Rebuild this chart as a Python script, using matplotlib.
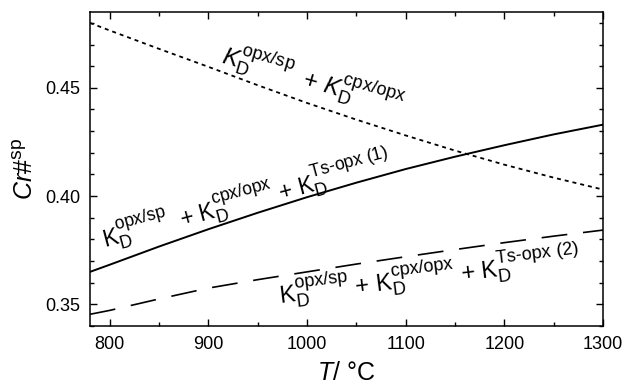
import matplotlib.pyplot as plt
import matplotlib._mathtext as mt
import numpy as np

plt.rcParams['font.family'] = 'Liberation Sans'
plt.rcParams['mathtext.fontset'] = 'custom'
plt.rcParams['mathtext.rm'] = 'Liberation Sans'
plt.rcParams['mathtext.it'] = 'Liberation Sans:italic'
mt.SHRINK_FACTOR = 0.77  # bigger super/subscripts, as in the original

# data
T = [780, 800, 850, 900, 950, 1000, 1050, 1100, 1150, 1200, 1250, 1300]
cr_dotted = [0.480, 0.4765, 0.4680, 0.4597, 0.4512, 0.4430, 0.4353, 0.4280, 0.4210, 0.4145, 0.4085, 0.4030]
cr_solid = [0.365, 0.3683, 0.3767, 0.3847, 0.3923, 0.3995, 0.4062, 0.4125, 0.4182, 0.4235, 0.4285, 0.4330]
cr_dashed = [0.3454, 0.3472, 0.3525, 0.3575, 0.3614, 0.3650, 0.3686, 0.3720, 0.3753, 0.3785, 0.3815, 0.3843]

fig = plt.figure(figsize=(6.25, 3.89), dpi=100)
axe = fig.add_axes([0.144, 0.162, 0.821, 0.807])

axe.plot(T, cr_dotted, color='k', lw=1.3, dashes=(2.2, 2.2))
axe.plot(T, cr_solid, color='k', lw=1.4, linestyle='-')
axe.plot(T, cr_dashed, color='k', lw=1.2, dashes=(15.5, 9.5))

#axes
axe.set_xlim(780, 1300)
axe.set_ylim(0.34, 0.485)
axe.set_xticks(np.arange(800, 1301, 100))
axe.set_xticks(np.arange(800, 1301, 50), minor=True)
axe.set_yticks([0.35, 0.40, 0.45])
axe.set_yticks(np.arange(0.34, 0.4851, 0.01), minor=True)
axe.tick_params(which='both', direction='in', top=True, right=True, labelsize=13, width=1.0, pad=7)
axe.tick_params(which='major', length=5)
axe.tick_params(which='minor', length=3)
for s in axe.spines.values():
    s.set_linewidth(1.1)

axe.set_xlabel(r'$\mathit{T}$/ °C', fontsize=18, labelpad=6)
axe.set_ylabel(r'$\mathit{Cr}\#^{\mathrm{sp}}$', fontsize=18, labelpad=5)

#labels along the curves
D = r'_{\mathrm{D}}'
axe.text(1006, 0.4540, r'$\mathit{K}' + D + r'^{\mathrm{opx/sp}}$  + $\mathit{K}' + D + r'^{\mathrm{cpx/opx}}$',
         fontsize=17, rotation=-16, ha='center', va='center')
axe.text(938, 0.3985, r'$\mathrm{K}' + D + r'^{\mathrm{opx/sp}}$  + $\mathrm{K}' + D + r'^{\mathrm{cpx/opx}}$ + $\mathrm{K}' + D + r'^{\mathrm{Ts\text{-}opx\ (1)}}$',
         fontsize=16.4, rotation=15, ha='center', va='center')
axe.text(1124, 0.3635, r'$\mathrm{K}' + D + r'^{\mathrm{opx/sp}}$ + $\mathrm{K}' + D + r'^{\mathrm{cpx/opx}}$ + $\mathrm{K}' + D + r'^{\mathrm{Ts\text{-}opx\ (2)}}$',
         fontsize=17, rotation=7, ha='center', va='center')

fig.savefig('out.png', dpi=100)
